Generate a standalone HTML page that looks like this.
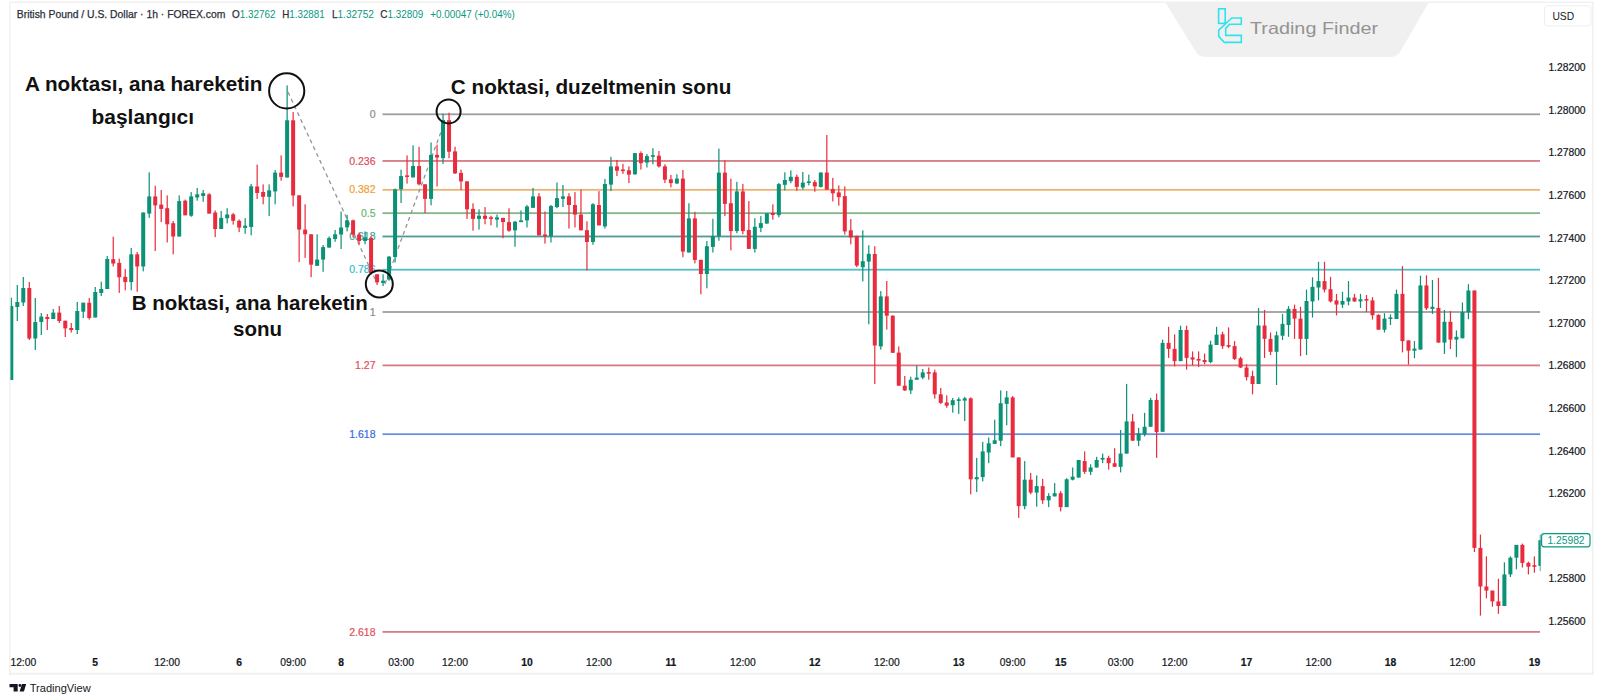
<!DOCTYPE html>
<html><head><meta charset="utf-8">
<style>
html,body{margin:0;padding:0;background:#fff;}
body{width:1600px;height:700px;overflow:hidden;position:relative;font-family:"Liberation Sans",sans-serif;}
svg{position:absolute;left:0;top:0;}
svg text{font-family:"Liberation Sans",sans-serif;}
</style></head><body>
<svg width="1600" height="700" viewBox="0 0 1600 700">
<!-- frame -->
<defs><clipPath id="cc"><rect x="10.5" y="0" width="1530" height="700"/></clipPath></defs>
<rect x="0" y="0" width="1600" height="700" fill="#fff"/>
<rect x="9" y="1.5" width="1585" height="1.5" fill="#f1f1f1"/>
<rect x="9" y="2" width="1.5" height="673" fill="#f1f1f1"/>
<rect x="1592" y="2" width="1.5" height="673" fill="#f1f1f1"/>
<rect x="9" y="672.8" width="1585" height="1.8" fill="#f1f1f1"/>
<!-- watermark -->
<path d="M1165 2 L1429 2 L1400 52 Q1397 57 1390 57 L1206 57 Q1199 57 1196 52 Z" fill="#f0f0f0"/>
<g fill="none" stroke="#2fe3ee" stroke-width="1.6" stroke-linejoin="miter">
<rect x="1218.6" y="8.8" width="6.6" height="14.6"/>
<path d="M1231.8 18 L1241.3 18 L1241.3 24.2 L1229.6 24.2 L1225.7 28.4 L1225.7 35.4 L1241.3 35.4 L1241.3 42.4 L1224.3 42.4 L1218.7 36.4 L1218.7 30.2 Z"/>
</g>
<text x="1250" y="34.3" font-size="16.5" fill="#939393" textLength="128" lengthAdjust="spacingAndGlyphs">Trading Finder</text>
<!-- USD box -->
<rect x="1544.5" y="5.8" width="46.5" height="20.2" rx="3" fill="#fff" stroke="#eeeeee" stroke-width="1"/>
<text x="1552.4" y="20" font-size="10.3" fill="#131722">USD</text>
<!-- header -->
<text x="16.8" y="17.7" font-size="11" fill="#2a2e39" textLength="208.5" lengthAdjust="spacingAndGlyphs" stroke="#2a2e39" stroke-width="0.25">British Pound / U.S. Dollar · 1h · FOREX.com</text>
<text x="232" y="17.7" font-size="11" fill="#2a2e39" stroke-width="0.25" textLength="43.5" lengthAdjust="spacingAndGlyphs"><tspan stroke="#2a2e39">O</tspan><tspan fill="#089981">1.32762</tspan></text>
<text x="282.2" y="17.7" font-size="11" fill="#2a2e39" stroke-width="0.25" textLength="42.5" lengthAdjust="spacingAndGlyphs"><tspan stroke="#2a2e39">H</tspan><tspan fill="#089981">1.32881</tspan></text>
<text x="331.9" y="17.7" font-size="11" fill="#2a2e39" stroke-width="0.25" textLength="42" lengthAdjust="spacingAndGlyphs"><tspan stroke="#2a2e39">L</tspan><tspan fill="#089981">1.32752</tspan></text>
<text x="380.3" y="17.7" font-size="11" fill="#2a2e39" stroke-width="0.25" textLength="43" lengthAdjust="spacingAndGlyphs"><tspan stroke="#2a2e39">C</tspan><tspan fill="#089981">1.32809</tspan></text>
<text x="430.3" y="17.7" font-size="11" fill="#089981" textLength="84.5" lengthAdjust="spacingAndGlyphs">+0.00047 (+0.04%)</text>
<rect x="382.5" y="113.40" width="1157.5" height="1.8" fill="#9e9e9e"/><text x="375.5" y="117.9" text-anchor="end" fill="#8a8a8a" stroke="#8a8a8a" stroke-width="0.2" font-size="10.5">0</text><rect x="382.5" y="160.06" width="1157.5" height="1.8" fill="#d87a82"/><text x="375.5" y="164.6" text-anchor="end" fill="#e0505e" stroke="#e0505e" stroke-width="0.2" font-size="10.5">0.236</text><rect x="382.5" y="188.92" width="1157.5" height="1.8" fill="#eab274"/><text x="375.5" y="193.4" text-anchor="end" fill="#f0a030" stroke="#f0a030" stroke-width="0.2" font-size="10.5">0.382</text><rect x="382.5" y="212.25" width="1157.5" height="1.8" fill="#82b68a"/><text x="375.5" y="216.7" text-anchor="end" fill="#6cb86c" stroke="#6cb86c" stroke-width="0.2" font-size="10.5">0.5</text><rect x="382.5" y="235.58" width="1157.5" height="1.8" fill="#4f9a98"/><text x="375.5" y="240.1" text-anchor="end" fill="#3a9f95" stroke="#3a9f95" stroke-width="0.2" font-size="10.5">0.618</text><rect x="382.5" y="268.79" width="1157.5" height="1.8" fill="#52bec8"/><text x="375.5" y="273.3" text-anchor="end" fill="#30bcd4" stroke="#30bcd4" stroke-width="0.2" font-size="10.5">0.786</text><rect x="382.5" y="311.10" width="1157.5" height="1.8" fill="#9e9e9e"/><text x="375.5" y="315.6" text-anchor="end" fill="#8a8a8a" stroke="#8a8a8a" stroke-width="0.2" font-size="10.5">1</text><rect x="382.5" y="364.48" width="1157.5" height="1.8" fill="#d87a82"/><text x="375.5" y="369.0" text-anchor="end" fill="#e0505e" stroke="#e0505e" stroke-width="0.2" font-size="10.5">1.27</text><rect x="382.5" y="433.28" width="1157.5" height="1.8" fill="#6c8fdd"/><text x="375.5" y="437.8" text-anchor="end" fill="#3a6ae0" stroke="#3a6ae0" stroke-width="0.2" font-size="10.5">1.618</text><rect x="382.5" y="630.98" width="1157.5" height="1.8" fill="#d87a82"/><text x="375.5" y="635.5" text-anchor="end" fill="#e0505e" stroke="#e0505e" stroke-width="0.2" font-size="10.5">2.618</text>
<!-- dashed lines -->
<g stroke="#959595" stroke-width="1.3" stroke-dasharray="4 3.5" fill="none">
<line x1="288" y1="92" x2="376" y2="281"/>
<line x1="385" y1="284" x2="445" y2="121"/>
</g>
<g clip-path="url(#cc)"><g fill="#0a9176"><rect x="10.70" y="297.6" width="1.2" height="82.4"/><rect x="9.30" y="306.0" width="4" height="74.0"/><rect x="16.70" y="285.0" width="1.2" height="36.0"/><rect x="15.30" y="302.0" width="4" height="5.0"/><rect x="22.69" y="277.0" width="1.2" height="29.0"/><rect x="21.29" y="288.0" width="4" height="14.5"/><rect x="34.69" y="298.0" width="1.2" height="52.0"/><rect x="33.29" y="322.0" width="4" height="16.5"/><rect x="40.68" y="313.0" width="1.2" height="22.0"/><rect x="39.28" y="316.6" width="4" height="5.4"/><rect x="52.67" y="309.0" width="1.2" height="10.0"/><rect x="51.27" y="312.6" width="4" height="6.4"/><rect x="76.66" y="302.0" width="1.2" height="32.0"/><rect x="75.26" y="311.0" width="4" height="19.0"/><rect x="82.66" y="302.7" width="1.2" height="15.3"/><rect x="81.26" y="302.7" width="4" height="9.0"/><rect x="94.65" y="287.0" width="1.2" height="30.5"/><rect x="93.25" y="292.0" width="4" height="25.5"/><rect x="100.65" y="281.7" width="1.2" height="14.3"/><rect x="99.25" y="289.0" width="4" height="4.0"/><rect x="106.64" y="256.0" width="1.2" height="33.0"/><rect x="105.24" y="259.0" width="4" height="30.0"/><rect x="130.63" y="247.9" width="1.2" height="42.4"/><rect x="129.23" y="254.3" width="4" height="27.8"/><rect x="142.62" y="212.5" width="1.2" height="58.9"/><rect x="141.22" y="212.5" width="4" height="54.0"/><rect x="148.62" y="172.4" width="1.2" height="45.5"/><rect x="147.22" y="196.4" width="4" height="17.2"/><rect x="178.60" y="195.4" width="1.2" height="41.1"/><rect x="177.20" y="201.1" width="4" height="35.4"/><rect x="190.59" y="192.1" width="1.2" height="24.7"/><rect x="189.19" y="196.4" width="4" height="19.3"/><rect x="196.59" y="187.9" width="1.2" height="12.8"/><rect x="195.19" y="194.3" width="4" height="3.2"/><rect x="202.58" y="190.0" width="1.2" height="11.8"/><rect x="201.18" y="193.2" width="4" height="2.8"/><rect x="220.57" y="211.0" width="1.2" height="18.0"/><rect x="219.17" y="217.9" width="4" height="11.1"/><rect x="226.57" y="208.2" width="1.2" height="15.2"/><rect x="225.17" y="214.5" width="4" height="3.7"/><rect x="244.56" y="218.2" width="1.2" height="15.7"/><rect x="243.16" y="225.7" width="4" height="2.2"/><rect x="250.56" y="184.0" width="1.2" height="51.4"/><rect x="249.16" y="186.3" width="4" height="40.7"/><rect x="268.55" y="184.4" width="1.2" height="31.6"/><rect x="267.15" y="190.4" width="4" height="6.4"/><rect x="274.54" y="170.0" width="1.2" height="34.3"/><rect x="273.14" y="172.6" width="4" height="18.8"/><rect x="286.53" y="85.4" width="1.2" height="92.1"/><rect x="285.13" y="120.3" width="4" height="57.2"/><rect x="316.52" y="234.3" width="1.2" height="31.5"/><rect x="315.12" y="259.6" width="4" height="6.2"/><rect x="322.51" y="245.0" width="1.2" height="26.8"/><rect x="321.11" y="247.1" width="4" height="12.5"/><rect x="328.51" y="236.4" width="1.2" height="11.2"/><rect x="327.11" y="238.1" width="4" height="9.5"/><rect x="334.51" y="230.0" width="1.2" height="11.8"/><rect x="333.11" y="234.3" width="4" height="4.7"/><rect x="340.50" y="211.5" width="1.2" height="37.5"/><rect x="339.10" y="227.5" width="4" height="7.0"/><rect x="346.50" y="214.8" width="1.2" height="16.6"/><rect x="345.10" y="220.3" width="4" height="7.0"/><rect x="364.49" y="231.4" width="1.2" height="12.9"/><rect x="363.09" y="237.4" width="4" height="3.6"/><rect x="382.48" y="274.3" width="1.2" height="11.8"/><rect x="381.08" y="280.7" width="4" height="2.2"/><rect x="388.47" y="256.0" width="1.2" height="24.7"/><rect x="387.07" y="256.7" width="4" height="22.9"/><rect x="394.47" y="188.6" width="1.2" height="73.9"/><rect x="393.07" y="189.4" width="4" height="67.7"/><rect x="400.47" y="169.7" width="1.2" height="33.3"/><rect x="399.07" y="176.1" width="4" height="13.0"/><rect x="412.46" y="145.3" width="1.2" height="32.1"/><rect x="411.06" y="166.0" width="4" height="11.4"/><rect x="430.45" y="142.5" width="1.2" height="62.8"/><rect x="429.05" y="154.9" width="4" height="44.0"/><rect x="442.44" y="113.6" width="1.2" height="50.3"/><rect x="441.04" y="120.0" width="4" height="38.1"/><rect x="478.42" y="209.3" width="1.2" height="20.3"/><rect x="477.02" y="215.7" width="4" height="3.2"/><rect x="496.41" y="214.6" width="1.2" height="12.9"/><rect x="495.01" y="217.4" width="4" height="2.2"/><rect x="514.40" y="221.0" width="1.2" height="25.8"/><rect x="513.00" y="221.7" width="4" height="8.6"/><rect x="520.39" y="210.4" width="1.2" height="11.7"/><rect x="518.99" y="220.4" width="4" height="1.7"/><rect x="526.39" y="205.0" width="1.2" height="22.5"/><rect x="524.99" y="206.5" width="4" height="13.9"/><rect x="532.39" y="187.9" width="1.2" height="19.9"/><rect x="530.99" y="196.4" width="4" height="11.4"/><rect x="550.38" y="205.0" width="1.2" height="37.5"/><rect x="548.98" y="206.1" width="4" height="30.0"/><rect x="556.37" y="182.5" width="1.2" height="25.7"/><rect x="554.97" y="198.1" width="4" height="9.0"/><rect x="562.37" y="185.0" width="1.2" height="22.0"/><rect x="560.97" y="196.4" width="4" height="2.4"/><rect x="592.35" y="203.2" width="1.2" height="41.6"/><rect x="590.95" y="204.3" width="4" height="37.7"/><rect x="604.34" y="178.9" width="1.2" height="49.7"/><rect x="602.94" y="184.0" width="4" height="42.4"/><rect x="610.34" y="156.8" width="1.2" height="34.3"/><rect x="608.94" y="166.4" width="4" height="18.2"/><rect x="634.33" y="153.1" width="1.2" height="21.3"/><rect x="632.93" y="153.1" width="4" height="21.3"/><rect x="646.32" y="154.0" width="1.2" height="13.5"/><rect x="644.92" y="156.1" width="4" height="6.5"/><rect x="652.31" y="148.2" width="1.2" height="16.1"/><rect x="650.91" y="155.2" width="4" height="1.6"/><rect x="676.30" y="174.3" width="1.2" height="9.6"/><rect x="674.90" y="178.6" width="4" height="4.9"/><rect x="688.29" y="203.2" width="1.2" height="49.3"/><rect x="686.89" y="218.4" width="4" height="34.1"/><rect x="706.28" y="241.0" width="1.2" height="47.3"/><rect x="704.88" y="246.2" width="4" height="27.8"/><rect x="712.28" y="218.8" width="1.2" height="33.7"/><rect x="710.88" y="236.2" width="4" height="10.7"/><rect x="718.28" y="148.6" width="1.2" height="92.1"/><rect x="716.88" y="172.6" width="4" height="63.4"/><rect x="736.26" y="181.8" width="1.2" height="51.4"/><rect x="734.86" y="191.4" width="4" height="39.7"/><rect x="754.25" y="218.2" width="1.2" height="34.3"/><rect x="752.85" y="226.8" width="4" height="22.1"/><rect x="760.25" y="216.1" width="1.2" height="16.0"/><rect x="758.85" y="223.1" width="4" height="4.8"/><rect x="766.25" y="213.3" width="1.2" height="10.3"/><rect x="764.85" y="213.3" width="4" height="10.3"/><rect x="778.24" y="183.0" width="1.2" height="34.3"/><rect x="776.84" y="184.1" width="4" height="31.1"/><rect x="784.24" y="172.3" width="1.2" height="18.2"/><rect x="782.84" y="180.0" width="4" height="4.8"/><rect x="790.23" y="170.4" width="1.2" height="12.8"/><rect x="788.83" y="176.8" width="4" height="4.3"/><rect x="802.22" y="171.9" width="1.2" height="17.7"/><rect x="800.82" y="182.6" width="4" height="4.9"/><rect x="808.22" y="174.6" width="1.2" height="10.8"/><rect x="806.82" y="181.4" width="4" height="1.6"/><rect x="820.21" y="172.5" width="1.2" height="15.0"/><rect x="818.81" y="172.5" width="4" height="14.4"/><rect x="862.19" y="230.3" width="1.2" height="51.1"/><rect x="860.79" y="261.2" width="4" height="6.0"/><rect x="868.19" y="245.2" width="1.2" height="79.1"/><rect x="866.79" y="253.8" width="4" height="7.8"/><rect x="880.18" y="291.1" width="1.2" height="58.5"/><rect x="878.78" y="296.4" width="4" height="50.0"/><rect x="910.16" y="376.7" width="1.2" height="17.2"/><rect x="908.76" y="379.7" width="4" height="10.7"/><rect x="916.16" y="365.4" width="1.2" height="14.3"/><rect x="914.76" y="377.6" width="4" height="2.1"/><rect x="922.15" y="369.0" width="1.2" height="10.3"/><rect x="920.75" y="372.4" width="4" height="5.2"/><rect x="952.13" y="398.0" width="1.2" height="14.7"/><rect x="950.73" y="400.2" width="4" height="5.0"/><rect x="958.13" y="397.4" width="1.2" height="16.5"/><rect x="956.73" y="399.3" width="4" height="1.6"/><rect x="964.13" y="396.8" width="1.2" height="24.2"/><rect x="962.73" y="398.3" width="4" height="2.3"/><rect x="976.12" y="457.9" width="1.2" height="34.2"/><rect x="974.72" y="477.1" width="4" height="2.2"/><rect x="982.12" y="441.8" width="1.2" height="39.6"/><rect x="980.72" y="451.4" width="4" height="25.7"/><rect x="988.11" y="437.5" width="1.2" height="25.7"/><rect x="986.71" y="443.3" width="4" height="9.2"/><rect x="994.11" y="419.7" width="1.2" height="24.2"/><rect x="992.71" y="440.3" width="4" height="3.6"/><rect x="1000.11" y="390.4" width="1.2" height="55.7"/><rect x="998.71" y="403.2" width="4" height="37.5"/><rect x="1006.10" y="391.0" width="1.2" height="34.3"/><rect x="1004.70" y="397.4" width="4" height="6.5"/><rect x="1024.09" y="461.1" width="1.2" height="48.2"/><rect x="1022.69" y="479.7" width="4" height="26.4"/><rect x="1036.08" y="475.4" width="1.2" height="31.3"/><rect x="1034.68" y="486.1" width="4" height="6.5"/><rect x="1048.08" y="493.2" width="1.2" height="13.9"/><rect x="1046.68" y="496.0" width="4" height="4.3"/><rect x="1054.07" y="483.1" width="1.2" height="13.3"/><rect x="1052.67" y="493.2" width="4" height="3.2"/><rect x="1066.07" y="478.2" width="1.2" height="28.9"/><rect x="1064.67" y="479.3" width="4" height="27.8"/><rect x="1072.06" y="467.5" width="1.2" height="12.9"/><rect x="1070.66" y="476.7" width="4" height="3.0"/><rect x="1078.06" y="460.0" width="1.2" height="17.6"/><rect x="1076.66" y="460.0" width="4" height="17.6"/><rect x="1090.05" y="464.3" width="1.2" height="10.7"/><rect x="1088.65" y="467.5" width="4" height="4.3"/><rect x="1096.05" y="456.8" width="1.2" height="10.7"/><rect x="1094.65" y="460.0" width="4" height="7.5"/><rect x="1102.04" y="453.6" width="1.2" height="9.6"/><rect x="1100.64" y="457.9" width="4" height="1.7"/><rect x="1120.03" y="430.0" width="1.2" height="42.4"/><rect x="1118.63" y="453.6" width="4" height="13.2"/><rect x="1126.03" y="383.9" width="1.2" height="69.7"/><rect x="1124.63" y="421.4" width="4" height="32.2"/><rect x="1138.02" y="427.9" width="1.2" height="18.2"/><rect x="1136.62" y="433.2" width="4" height="7.5"/><rect x="1144.02" y="412.9" width="1.2" height="23.5"/><rect x="1142.62" y="426.8" width="4" height="7.5"/><rect x="1150.02" y="397.9" width="1.2" height="28.9"/><rect x="1148.62" y="400.0" width="4" height="26.8"/><rect x="1162.01" y="339.6" width="1.2" height="92.2"/><rect x="1160.61" y="342.9" width="4" height="88.9"/><rect x="1180.00" y="325.7" width="1.2" height="35.4"/><rect x="1178.60" y="330.0" width="4" height="31.1"/><rect x="1209.98" y="340.7" width="1.2" height="22.5"/><rect x="1208.58" y="344.6" width="4" height="17.5"/><rect x="1215.98" y="326.8" width="1.2" height="18.2"/><rect x="1214.58" y="334.7" width="4" height="10.3"/><rect x="1257.95" y="308.0" width="1.2" height="76.0"/><rect x="1256.55" y="325.5" width="4" height="58.5"/><rect x="1275.94" y="331.4" width="1.2" height="53.6"/><rect x="1274.54" y="335.3" width="4" height="16.5"/><rect x="1281.94" y="313.9" width="1.2" height="26.1"/><rect x="1280.54" y="323.9" width="4" height="11.8"/><rect x="1287.93" y="306.1" width="1.2" height="30.7"/><rect x="1286.53" y="308.9" width="4" height="16.1"/><rect x="1305.92" y="289.6" width="1.2" height="65.4"/><rect x="1304.52" y="301.0" width="4" height="37.9"/><rect x="1311.92" y="277.4" width="1.2" height="40.1"/><rect x="1310.52" y="286.9" width="4" height="14.5"/><rect x="1317.92" y="261.8" width="1.2" height="38.6"/><rect x="1316.52" y="281.1" width="4" height="6.4"/><rect x="1341.90" y="291.8" width="1.2" height="16.1"/><rect x="1340.50" y="301.0" width="4" height="3.6"/><rect x="1347.90" y="281.1" width="1.2" height="24.2"/><rect x="1346.50" y="297.6" width="4" height="3.8"/><rect x="1359.89" y="293.9" width="1.2" height="14.0"/><rect x="1358.49" y="299.3" width="4" height="2.1"/><rect x="1383.88" y="313.2" width="1.2" height="19.3"/><rect x="1382.48" y="318.6" width="4" height="11.1"/><rect x="1389.87" y="314.3" width="1.2" height="10.7"/><rect x="1388.47" y="317.4" width="4" height="1.6"/><rect x="1395.87" y="289.6" width="1.2" height="29.4"/><rect x="1394.47" y="293.9" width="4" height="25.1"/><rect x="1413.86" y="341.1" width="1.2" height="17.1"/><rect x="1412.46" y="348.6" width="4" height="2.1"/><rect x="1419.85" y="275.7" width="1.2" height="73.9"/><rect x="1418.45" y="285.4" width="4" height="64.2"/><rect x="1431.85" y="280.0" width="1.2" height="33.9"/><rect x="1430.45" y="306.8" width="4" height="2.1"/><rect x="1443.84" y="310.0" width="1.2" height="43.9"/><rect x="1442.44" y="321.8" width="4" height="20.8"/><rect x="1455.83" y="330.4" width="1.2" height="26.7"/><rect x="1454.43" y="336.8" width="4" height="2.8"/><rect x="1461.83" y="302.5" width="1.2" height="35.8"/><rect x="1460.43" y="312.1" width="4" height="26.2"/><rect x="1467.83" y="284.2" width="1.2" height="35.0"/><rect x="1466.43" y="290.5" width="4" height="21.7"/><rect x="1503.80" y="562.3" width="1.2" height="43.7"/><rect x="1502.40" y="574.4" width="4" height="31.6"/><rect x="1509.80" y="556.4" width="1.2" height="20.6"/><rect x="1508.40" y="557.7" width="4" height="16.7"/><rect x="1515.80" y="544.9" width="1.2" height="24.4"/><rect x="1514.40" y="544.9" width="4" height="12.8"/><rect x="1539.78" y="534.6" width="1.2" height="36.5"/><rect x="1538.38" y="540.2" width="4" height="25.7"/></g><g fill="#e82c3e"><rect x="28.69" y="282.0" width="1.2" height="58.0"/><rect x="27.29" y="288.0" width="4" height="50.5"/><rect x="46.68" y="314.0" width="1.2" height="16.0"/><rect x="45.28" y="317.0" width="4" height="2.0"/><rect x="58.67" y="306.0" width="1.2" height="17.0"/><rect x="57.27" y="312.6" width="4" height="8.4"/><rect x="64.67" y="320.7" width="1.2" height="16.3"/><rect x="63.27" y="320.7" width="4" height="7.7"/><rect x="70.66" y="323.0" width="1.2" height="9.5"/><rect x="69.26" y="328.0" width="4" height="2.0"/><rect x="88.65" y="298.0" width="1.2" height="21.6"/><rect x="87.25" y="302.7" width="4" height="15.3"/><rect x="112.64" y="236.7" width="1.2" height="29.8"/><rect x="111.24" y="259.2" width="4" height="4.3"/><rect x="118.64" y="258.6" width="1.2" height="34.3"/><rect x="117.24" y="262.9" width="4" height="14.3"/><rect x="124.63" y="268.9" width="1.2" height="21.4"/><rect x="123.23" y="276.8" width="4" height="5.3"/><rect x="136.62" y="252.0" width="1.2" height="39.8"/><rect x="135.22" y="254.3" width="4" height="12.2"/><rect x="154.61" y="185.7" width="1.2" height="65.3"/><rect x="153.21" y="196.4" width="4" height="9.0"/><rect x="160.61" y="190.0" width="1.2" height="32.1"/><rect x="159.21" y="204.6" width="4" height="4.3"/><rect x="166.61" y="195.4" width="1.2" height="47.1"/><rect x="165.21" y="208.2" width="4" height="16.1"/><rect x="172.60" y="221.0" width="1.2" height="33.3"/><rect x="171.20" y="223.2" width="4" height="13.3"/><rect x="184.60" y="199.6" width="1.2" height="15.7"/><rect x="183.20" y="200.7" width="4" height="14.6"/><rect x="208.58" y="193.2" width="1.2" height="20.4"/><rect x="207.18" y="194.3" width="4" height="19.3"/><rect x="214.58" y="210.4" width="1.2" height="26.7"/><rect x="213.18" y="212.5" width="4" height="16.5"/><rect x="232.57" y="212.9" width="1.2" height="11.7"/><rect x="231.17" y="214.4" width="4" height="6.4"/><rect x="238.56" y="219.5" width="1.2" height="12.6"/><rect x="237.16" y="220.8" width="4" height="6.8"/><rect x="256.55" y="164.6" width="1.2" height="34.3"/><rect x="255.15" y="186.5" width="4" height="6.5"/><rect x="262.55" y="184.4" width="1.2" height="19.9"/><rect x="261.15" y="192.0" width="4" height="4.8"/><rect x="280.54" y="155.4" width="1.2" height="25.3"/><rect x="279.14" y="172.6" width="4" height="4.3"/><rect x="292.53" y="112.1" width="1.2" height="94.3"/><rect x="291.13" y="120.3" width="4" height="75.2"/><rect x="298.53" y="195.3" width="1.2" height="66.8"/><rect x="297.13" y="195.3" width="4" height="34.3"/><rect x="304.52" y="204.3" width="1.2" height="53.6"/><rect x="303.12" y="229.6" width="4" height="4.7"/><rect x="310.52" y="234.3" width="1.2" height="42.8"/><rect x="309.12" y="234.3" width="4" height="30.4"/><rect x="352.49" y="219.6" width="1.2" height="17.9"/><rect x="351.09" y="220.3" width="4" height="14.3"/><rect x="358.49" y="232.5" width="1.2" height="11.8"/><rect x="357.09" y="234.6" width="4" height="6.4"/><rect x="370.48" y="236.8" width="1.2" height="37.5"/><rect x="369.08" y="237.9" width="4" height="35.3"/><rect x="376.48" y="274.3" width="1.2" height="10.7"/><rect x="375.08" y="274.3" width="4" height="8.1"/><rect x="406.46" y="155.4" width="1.2" height="28.2"/><rect x="405.06" y="175.4" width="4" height="1.6"/><rect x="418.46" y="146.8" width="1.2" height="38.6"/><rect x="417.06" y="166.0" width="4" height="18.3"/><rect x="424.45" y="184.3" width="1.2" height="28.9"/><rect x="423.05" y="184.3" width="4" height="14.6"/><rect x="436.44" y="144.6" width="1.2" height="41.8"/><rect x="435.04" y="154.9" width="4" height="2.6"/><rect x="448.44" y="112.7" width="1.2" height="45.5"/><rect x="447.04" y="120.2" width="4" height="31.5"/><rect x="454.43" y="146.7" width="1.2" height="27.2"/><rect x="453.03" y="151.4" width="4" height="22.0"/><rect x="460.43" y="169.6" width="1.2" height="20.4"/><rect x="459.03" y="172.9" width="4" height="8.5"/><rect x="466.43" y="181.0" width="1.2" height="37.9"/><rect x="465.03" y="181.4" width="4" height="27.9"/><rect x="472.42" y="203.3" width="1.2" height="27.4"/><rect x="471.02" y="208.9" width="4" height="10.0"/><rect x="484.42" y="207.1" width="1.2" height="17.2"/><rect x="483.02" y="215.7" width="4" height="3.2"/><rect x="490.41" y="215.7" width="1.2" height="9.7"/><rect x="489.01" y="217.3" width="4" height="1.6"/><rect x="502.40" y="217.9" width="1.2" height="20.3"/><rect x="501.00" y="217.9" width="4" height="4.2"/><rect x="508.40" y="208.2" width="1.2" height="23.6"/><rect x="507.00" y="222.1" width="4" height="8.6"/><rect x="538.38" y="193.2" width="1.2" height="42.2"/><rect x="536.98" y="196.4" width="4" height="39.0"/><rect x="544.38" y="211.4" width="1.2" height="32.2"/><rect x="542.98" y="234.5" width="4" height="1.6"/><rect x="568.37" y="193.2" width="1.2" height="35.4"/><rect x="566.97" y="196.4" width="4" height="8.6"/><rect x="574.36" y="192.1" width="1.2" height="35.4"/><rect x="572.96" y="205.0" width="4" height="9.6"/><rect x="580.36" y="189.6" width="1.2" height="40.7"/><rect x="578.96" y="214.6" width="4" height="15.7"/><rect x="586.35" y="221.3" width="1.2" height="49.2"/><rect x="584.95" y="230.2" width="4" height="11.8"/><rect x="598.35" y="191.1" width="1.2" height="34.3"/><rect x="596.95" y="205.0" width="4" height="20.4"/><rect x="616.34" y="160.0" width="1.2" height="16.1"/><rect x="614.94" y="166.4" width="4" height="4.3"/><rect x="622.33" y="163.9" width="1.2" height="10.0"/><rect x="620.93" y="169.5" width="4" height="1.6"/><rect x="628.33" y="166.4" width="1.2" height="16.7"/><rect x="626.93" y="170.3" width="4" height="4.3"/><rect x="640.32" y="151.4" width="1.2" height="18.2"/><rect x="638.92" y="153.1" width="4" height="10.1"/><rect x="658.31" y="151.0" width="1.2" height="16.5"/><rect x="656.91" y="155.7" width="4" height="10.7"/><rect x="664.31" y="164.3" width="1.2" height="18.8"/><rect x="662.91" y="166.4" width="4" height="13.3"/><rect x="670.30" y="175.0" width="1.2" height="12.4"/><rect x="668.90" y="179.3" width="4" height="3.8"/><rect x="682.30" y="170.0" width="1.2" height="87.2"/><rect x="680.90" y="178.6" width="4" height="73.0"/><rect x="694.29" y="211.9" width="1.2" height="51.5"/><rect x="692.89" y="218.4" width="4" height="41.6"/><rect x="700.29" y="259.8" width="1.2" height="34.5"/><rect x="698.89" y="259.8" width="4" height="14.2"/><rect x="724.27" y="160.4" width="1.2" height="55.7"/><rect x="722.87" y="172.6" width="4" height="31.3"/><rect x="730.27" y="178.6" width="1.2" height="71.8"/><rect x="728.87" y="203.2" width="4" height="27.9"/><rect x="742.26" y="183.9" width="1.2" height="50.4"/><rect x="740.86" y="191.4" width="4" height="39.7"/><rect x="748.26" y="201.1" width="1.2" height="47.8"/><rect x="746.86" y="230.0" width="4" height="18.9"/><rect x="772.24" y="204.3" width="1.2" height="15.4"/><rect x="770.84" y="212.9" width="4" height="2.1"/><rect x="796.23" y="174.6" width="1.2" height="16.1"/><rect x="794.83" y="176.8" width="4" height="10.1"/><rect x="814.22" y="180.0" width="1.2" height="11.8"/><rect x="812.82" y="182.1" width="4" height="4.3"/><rect x="826.21" y="135.0" width="1.2" height="54.6"/><rect x="824.81" y="172.5" width="4" height="17.1"/><rect x="832.21" y="177.9" width="1.2" height="23.5"/><rect x="830.81" y="189.0" width="4" height="4.3"/><rect x="838.20" y="185.4" width="1.2" height="20.3"/><rect x="836.80" y="192.4" width="4" height="4.7"/><rect x="844.20" y="186.4" width="1.2" height="48.2"/><rect x="842.80" y="196.1" width="4" height="35.3"/><rect x="850.20" y="219.0" width="1.2" height="25.3"/><rect x="848.80" y="230.3" width="4" height="7.1"/><rect x="856.19" y="235.7" width="1.2" height="31.5"/><rect x="854.79" y="235.9" width="4" height="29.7"/><rect x="874.18" y="246.2" width="1.2" height="137.8"/><rect x="872.78" y="254.0" width="4" height="91.5"/><rect x="886.17" y="281.0" width="1.2" height="48.6"/><rect x="884.77" y="296.4" width="4" height="19.3"/><rect x="892.17" y="315.3" width="1.2" height="37.5"/><rect x="890.77" y="315.7" width="4" height="37.1"/><rect x="898.17" y="346.4" width="1.2" height="39.3"/><rect x="896.77" y="352.6" width="4" height="33.1"/><rect x="904.16" y="376.0" width="1.2" height="15.0"/><rect x="902.76" y="385.7" width="4" height="4.7"/><rect x="928.15" y="367.5" width="1.2" height="12.2"/><rect x="926.75" y="372.1" width="4" height="1.6"/><rect x="934.15" y="369.6" width="1.2" height="29.0"/><rect x="932.75" y="372.4" width="4" height="21.9"/><rect x="940.14" y="387.9" width="1.2" height="16.0"/><rect x="938.74" y="394.3" width="4" height="8.6"/><rect x="946.14" y="395.3" width="1.2" height="12.5"/><rect x="944.74" y="402.5" width="4" height="3.2"/><rect x="970.12" y="397.4" width="1.2" height="96.9"/><rect x="968.72" y="398.3" width="4" height="81.0"/><rect x="1012.10" y="396.1" width="1.2" height="61.3"/><rect x="1010.70" y="397.4" width="4" height="60.0"/><rect x="1018.10" y="457.4" width="1.2" height="60.5"/><rect x="1016.70" y="457.4" width="4" height="48.7"/><rect x="1030.09" y="472.9" width="1.2" height="21.4"/><rect x="1028.69" y="479.7" width="4" height="12.9"/><rect x="1042.08" y="478.9" width="1.2" height="25.0"/><rect x="1040.68" y="486.1" width="4" height="14.2"/><rect x="1060.07" y="491.1" width="1.2" height="20.3"/><rect x="1058.67" y="493.2" width="4" height="13.9"/><rect x="1084.06" y="451.4" width="1.2" height="22.5"/><rect x="1082.66" y="461.1" width="4" height="10.7"/><rect x="1108.04" y="455.7" width="1.2" height="13.9"/><rect x="1106.64" y="457.9" width="4" height="5.3"/><rect x="1114.04" y="448.2" width="1.2" height="18.6"/><rect x="1112.64" y="463.2" width="4" height="3.6"/><rect x="1132.03" y="413.9" width="1.2" height="26.8"/><rect x="1130.63" y="421.4" width="4" height="19.3"/><rect x="1156.01" y="393.6" width="1.2" height="64.3"/><rect x="1154.61" y="400.0" width="4" height="32.1"/><rect x="1168.01" y="326.8" width="1.2" height="31.1"/><rect x="1166.61" y="342.9" width="4" height="6.0"/><rect x="1174.00" y="334.3" width="1.2" height="32.1"/><rect x="1172.60" y="348.9" width="4" height="12.2"/><rect x="1185.99" y="325.7" width="1.2" height="43.9"/><rect x="1184.59" y="330.0" width="4" height="27.9"/><rect x="1191.99" y="351.4" width="1.2" height="14.0"/><rect x="1190.59" y="357.4" width="4" height="2.2"/><rect x="1197.99" y="351.4" width="1.2" height="15.5"/><rect x="1196.59" y="358.9" width="4" height="1.7"/><rect x="1203.98" y="353.6" width="1.2" height="10.7"/><rect x="1202.58" y="360.0" width="4" height="2.1"/><rect x="1221.97" y="331.7" width="1.2" height="17.2"/><rect x="1220.57" y="334.3" width="4" height="11.8"/><rect x="1227.97" y="327.4" width="1.2" height="20.8"/><rect x="1226.57" y="345.0" width="4" height="1.7"/><rect x="1233.97" y="341.1" width="1.2" height="18.9"/><rect x="1232.57" y="346.1" width="4" height="12.8"/><rect x="1239.96" y="356.8" width="1.2" height="11.3"/><rect x="1238.56" y="358.3" width="4" height="9.2"/><rect x="1245.96" y="364.3" width="1.2" height="16.1"/><rect x="1244.56" y="367.5" width="4" height="9.6"/><rect x="1251.95" y="370.7" width="1.2" height="23.6"/><rect x="1250.55" y="376.1" width="4" height="7.9"/><rect x="1263.95" y="310.0" width="1.2" height="48.0"/><rect x="1262.55" y="325.5" width="4" height="13.3"/><rect x="1269.94" y="332.5" width="1.2" height="22.5"/><rect x="1268.54" y="338.9" width="4" height="12.9"/><rect x="1293.93" y="304.6" width="1.2" height="34.3"/><rect x="1292.53" y="308.9" width="4" height="9.7"/><rect x="1299.93" y="306.8" width="1.2" height="49.3"/><rect x="1298.53" y="318.6" width="4" height="20.3"/><rect x="1323.91" y="261.8" width="1.2" height="30.6"/><rect x="1322.51" y="281.1" width="4" height="8.5"/><rect x="1329.91" y="276.8" width="1.2" height="25.7"/><rect x="1328.51" y="289.2" width="4" height="12.2"/><rect x="1335.90" y="293.9" width="1.2" height="21.5"/><rect x="1334.50" y="300.4" width="4" height="4.2"/><rect x="1353.89" y="293.9" width="1.2" height="8.0"/><rect x="1352.49" y="297.6" width="4" height="3.8"/><rect x="1365.89" y="295.0" width="1.2" height="17.1"/><rect x="1364.49" y="299.0" width="4" height="1.6"/><rect x="1371.88" y="297.1" width="1.2" height="22.5"/><rect x="1370.48" y="300.4" width="4" height="14.8"/><rect x="1377.88" y="314.3" width="1.2" height="15.4"/><rect x="1376.48" y="314.9" width="4" height="14.8"/><rect x="1401.86" y="266.1" width="1.2" height="86.3"/><rect x="1400.46" y="293.9" width="4" height="47.2"/><rect x="1407.86" y="340.4" width="1.2" height="24.2"/><rect x="1406.46" y="340.4" width="4" height="10.3"/><rect x="1425.85" y="275.3" width="1.2" height="34.7"/><rect x="1424.45" y="285.4" width="4" height="22.9"/><rect x="1437.84" y="277.9" width="1.2" height="64.7"/><rect x="1436.44" y="307.9" width="4" height="34.7"/><rect x="1449.84" y="311.1" width="1.2" height="37.9"/><rect x="1448.44" y="321.8" width="4" height="17.8"/><rect x="1473.82" y="290.5" width="1.2" height="261.5"/><rect x="1472.42" y="290.5" width="4" height="257.4"/><rect x="1479.82" y="534.6" width="1.2" height="81.0"/><rect x="1478.42" y="547.9" width="4" height="38.6"/><rect x="1485.81" y="556.4" width="1.2" height="41.9"/><rect x="1484.41" y="586.5" width="4" height="4.1"/><rect x="1491.81" y="590.6" width="1.2" height="16.0"/><rect x="1490.41" y="590.6" width="4" height="10.8"/><rect x="1497.81" y="578.8" width="1.2" height="35.0"/><rect x="1496.41" y="601.4" width="4" height="4.6"/><rect x="1521.79" y="543.6" width="1.2" height="23.9"/><rect x="1520.39" y="544.9" width="4" height="18.0"/><rect x="1527.79" y="561.6" width="1.2" height="12.8"/><rect x="1526.39" y="562.9" width="4" height="3.8"/><rect x="1533.79" y="556.4" width="1.2" height="16.2"/><rect x="1532.39" y="565.2" width="4" height="1.6"/></g></g>
<!-- circles -->
<g fill="none" stroke="#111" stroke-width="2">
<circle cx="286.7" cy="90.9" r="17.6"/>
<circle cx="448.6" cy="111.4" r="12"/>
<circle cx="379.3" cy="283.9" r="13.5"/>
</g>
<!-- annotations -->
<g font-weight="bold" fill="#111" font-size="20">
<text x="25" y="90.8" textLength="237.5" lengthAdjust="spacingAndGlyphs">A noktası, ana hareketin</text>
<text x="91.5" y="123.6" textLength="102.5" lengthAdjust="spacingAndGlyphs">başlangıcı</text>
<text x="450.8" y="94.4" textLength="280.5" lengthAdjust="spacingAndGlyphs">C noktasi, duzeltmenin sonu</text>
<text x="131.8" y="309.5" textLength="236" lengthAdjust="spacingAndGlyphs">B noktasi, ana hareketin</text>
<text x="233" y="335.8" textLength="49" lengthAdjust="spacingAndGlyphs">sonu</text>
</g>
<text x="1567" y="71.1" text-anchor="middle" font-size="10.3" fill="#131722" stroke="#131722" stroke-width="0.2">1.28200</text><text x="1567" y="113.7" text-anchor="middle" font-size="10.3" fill="#131722" stroke="#131722" stroke-width="0.2">1.28000</text><text x="1567" y="156.3" text-anchor="middle" font-size="10.3" fill="#131722" stroke="#131722" stroke-width="0.2">1.27800</text><text x="1567" y="198.9" text-anchor="middle" font-size="10.3" fill="#131722" stroke="#131722" stroke-width="0.2">1.27600</text><text x="1567" y="241.5" text-anchor="middle" font-size="10.3" fill="#131722" stroke="#131722" stroke-width="0.2">1.27400</text><text x="1567" y="284.1" text-anchor="middle" font-size="10.3" fill="#131722" stroke="#131722" stroke-width="0.2">1.27200</text><text x="1567" y="326.7" text-anchor="middle" font-size="10.3" fill="#131722" stroke="#131722" stroke-width="0.2">1.27000</text><text x="1567" y="369.3" text-anchor="middle" font-size="10.3" fill="#131722" stroke="#131722" stroke-width="0.2">1.26800</text><text x="1567" y="411.9" text-anchor="middle" font-size="10.3" fill="#131722" stroke="#131722" stroke-width="0.2">1.26600</text><text x="1567" y="454.5" text-anchor="middle" font-size="10.3" fill="#131722" stroke="#131722" stroke-width="0.2">1.26400</text><text x="1567" y="497.1" text-anchor="middle" font-size="10.3" fill="#131722" stroke="#131722" stroke-width="0.2">1.26200</text><text x="1567" y="582.3" text-anchor="middle" font-size="10.3" fill="#131722" stroke="#131722" stroke-width="0.2">1.25800</text><text x="1567" y="624.9" text-anchor="middle" font-size="10.3" fill="#131722" stroke="#131722" stroke-width="0.2">1.25600</text>
<!-- current price -->
<rect x="1541.6" y="533.6" width="48.4" height="13.2" rx="2.5" fill="#fff" stroke="#089981" stroke-width="1.2"/>
<text x="1566" y="544" text-anchor="middle" font-size="10.3" fill="#089981">1.25982</text>
<text x="23.3" y="665.7" text-anchor="middle" font-size="10.3" fill="#131722" stroke="#131722" stroke-width="0.2">12:00</text><text x="95.2" y="665.7" text-anchor="middle" font-size="10.3" font-weight="bold" fill="#131722" stroke="#131722" stroke-width="0.2">5</text><text x="167.2" y="665.7" text-anchor="middle" font-size="10.3" fill="#131722" stroke="#131722" stroke-width="0.2">12:00</text><text x="239.2" y="665.7" text-anchor="middle" font-size="10.3" font-weight="bold" fill="#131722" stroke="#131722" stroke-width="0.2">6</text><text x="293.1" y="665.7" text-anchor="middle" font-size="10.3" fill="#131722" stroke="#131722" stroke-width="0.2">09:00</text><text x="341.1" y="665.7" text-anchor="middle" font-size="10.3" font-weight="bold" fill="#131722" stroke="#131722" stroke-width="0.2">8</text><text x="401.1" y="665.7" text-anchor="middle" font-size="10.3" fill="#131722" stroke="#131722" stroke-width="0.2">03:00</text><text x="455.0" y="665.7" text-anchor="middle" font-size="10.3" fill="#131722" stroke="#131722" stroke-width="0.2">12:00</text><text x="527.0" y="665.7" text-anchor="middle" font-size="10.3" font-weight="bold" fill="#131722" stroke="#131722" stroke-width="0.2">10</text><text x="598.9" y="665.7" text-anchor="middle" font-size="10.3" fill="#131722" stroke="#131722" stroke-width="0.2">12:00</text><text x="670.9" y="665.7" text-anchor="middle" font-size="10.3" font-weight="bold" fill="#131722" stroke="#131722" stroke-width="0.2">11</text><text x="742.9" y="665.7" text-anchor="middle" font-size="10.3" fill="#131722" stroke="#131722" stroke-width="0.2">12:00</text><text x="814.8" y="665.7" text-anchor="middle" font-size="10.3" font-weight="bold" fill="#131722" stroke="#131722" stroke-width="0.2">12</text><text x="886.8" y="665.7" text-anchor="middle" font-size="10.3" fill="#131722" stroke="#131722" stroke-width="0.2">12:00</text><text x="958.7" y="665.7" text-anchor="middle" font-size="10.3" font-weight="bold" fill="#131722" stroke="#131722" stroke-width="0.2">13</text><text x="1012.7" y="665.7" text-anchor="middle" font-size="10.3" fill="#131722" stroke="#131722" stroke-width="0.2">09:00</text><text x="1060.7" y="665.7" text-anchor="middle" font-size="10.3" font-weight="bold" fill="#131722" stroke="#131722" stroke-width="0.2">15</text><text x="1120.6" y="665.7" text-anchor="middle" font-size="10.3" fill="#131722" stroke="#131722" stroke-width="0.2">03:00</text><text x="1174.6" y="665.7" text-anchor="middle" font-size="10.3" fill="#131722" stroke="#131722" stroke-width="0.2">12:00</text><text x="1246.6" y="665.7" text-anchor="middle" font-size="10.3" font-weight="bold" fill="#131722" stroke="#131722" stroke-width="0.2">17</text><text x="1318.5" y="665.7" text-anchor="middle" font-size="10.3" fill="#131722" stroke="#131722" stroke-width="0.2">12:00</text><text x="1390.5" y="665.7" text-anchor="middle" font-size="10.3" font-weight="bold" fill="#131722" stroke="#131722" stroke-width="0.2">18</text><text x="1462.4" y="665.7" text-anchor="middle" font-size="10.3" fill="#131722" stroke="#131722" stroke-width="0.2">12:00</text><text x="1534.4" y="665.7" text-anchor="middle" font-size="10.3" font-weight="bold" fill="#131722" stroke="#131722" stroke-width="0.2">19</text>
<!-- tradingview logo -->
<path d="M9.5 684 L17.7 684 L17.7 691.6 L13.6 691.6 L13.6 687.2 L9.5 687.2 Z" fill="#131722"/>
<circle cx="19.9" cy="685.5" r="1.4" fill="#131722"/>
<path d="M21.9 684 L26.2 684 L23.9 691.6 L19.6 691.6 Z" fill="#131722"/>
<text x="29.7" y="691.6" font-size="10.5" fill="#131722" textLength="61" lengthAdjust="spacingAndGlyphs">TradingView</text>
</svg>
</body></html>
